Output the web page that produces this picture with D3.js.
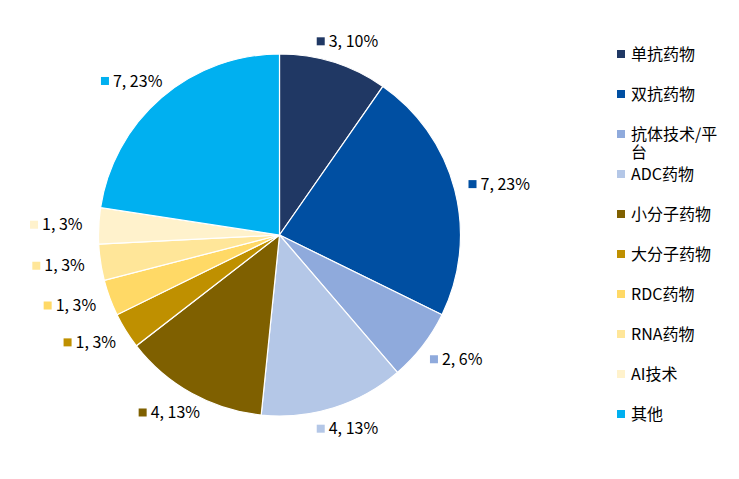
<!DOCTYPE html>
<html><head><meta charset="utf-8">
<script src="https://cdn.jsdelivr.net/npm/d3@7/dist/d3.min.js"></script>
<style>body{margin:0;background:#fff}svg{display:block}text{font-family:"Noto Sans CJK SC","Noto Sans",sans-serif;fill:#000}</style>
</head><body><svg id="c" width="739" height="479"></svg>
<script>
const categories = ["单抗药物","双抗药物","抗体技术/平台","ADC药物","小分子药物","大分子药物","RDC药物","RNA药物","AI技术","其他"];
const values = [3,7,2,4,4,1,1,1,1,7];
const colors = ["#203864","#004fa2","#8faadc","#b4c7e7","#7f6000","#bf9000","#ffd966","#ffe699","#fff2cc","#00b0f0"];
const legendLines = [["单抗药物"],["双抗药物"],["抗体技术/平","台"],["ADC药物"],["小分子药物"],["大分子药物"],["RDC药物"],["RNA药物"],["AI技术"],["其他"]];

const svg = d3.select("#c");
const cx = 279.5, cy = 235, r = 181;
const total = d3.sum(values);
const data = values.map((v,i)=>({v,i}));
const pie = d3.pie().value(d=>d.v).sort(null);
const arcs = pie(data);
const arc = d3.arc().innerRadius(0).outerRadius(r);
const g = svg.append("g").attr("transform",`translate(${cx},${cy})`);
g.selectAll("path").data(arcs).join("path")
  .attr("d",arc).attr("fill",d=>colors[d.data.i])
  .attr("stroke","#fff").attr("stroke-width",1.2);

// labels: placed just outside the pie in the direction of the slice mid-angle
const R = 203;
arcs.forEach(a=>{
  const m = (a.startAngle+a.endAngle)/2;
  const s = Math.sin(m), c = Math.cos(m);
  const txt = `${a.data.v}, ${Math.round(a.data.v/total*100)}%`;
  const lg = g.append("g");
  const t = lg.append("text").attr("font-size",16).attr("dy","0.35em").attr("x",12).text(txt);
  const tw = t.node().getComputedTextLength();
  const w = 12 + tw, hw = w/2;
  const lx = R*s + 0.78*s*hw, lyy = -R*c;
  lg.attr("transform",`translate(${lx-hw},${lyy})`);
  lg.insert("rect","text").attr("x",0).attr("y",-4).attr("width",8).attr("height",8).attr("fill",colors[a.data.i]);
});

// legend
const ly = d3.scalePoint().domain(categories).range([54,414]);
const leg = svg.append("g");
categories.forEach((cat,i)=>{
  const y = ly(cat);
  leg.append("rect").attr("x",617).attr("y",y-4).attr("width",8).attr("height",8).attr("fill",colors[i]);
  legendLines[i].forEach((ln,j)=>{
    leg.append("text").attr("x",631).attr("y",y+j*18).attr("dy","0.35em").attr("font-size",16).text(ln);
  });
});
</script></body></html>
